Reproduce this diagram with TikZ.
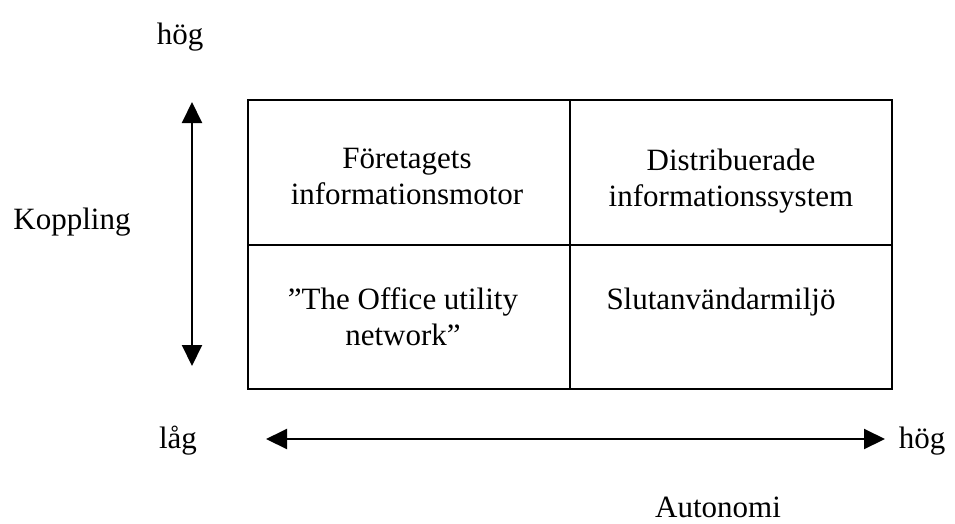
\documentclass[tikz,border=0pt]{standalone}
\usepackage{fontspec}
\setmainfont{Liberation Serif}
\usetikzlibrary{arrows.meta}
\begin{document}
\begin{tikzpicture}[x=1pt,y=-1pt,
  grid/.style={line width=2.6pt},
  axis/.style={line width=2pt,{Triangle[width=20pt,length=21pt]}-{Triangle[width=20pt,length=21pt]}},
  lbl/.style={font=\fontsize{31}{36}\selectfont},
  cell/.style={lbl,align=center,anchor=north}]
\useasboundingbox (0,0) rectangle (955,523);
% matrix of four cells
\draw[grid] (248,100) rectangle (892,389);
\draw[grid] (570,100) -- (570,389);
\draw[grid] (248,245) -- (892,245);
\node[cell] (tl) at (407,145) {Företagets\\informationsmotor};
\node[cell] (tr) at (731,145) {Distribuerade\\informationssystem};
\node[cell] (bl) at (403,284) {”The Office utility\\network”};
\node[cell] (br) at (721,284) {Slutanvändarmiljö};
% axes
\coordinate (vtop) at (192,102);
\coordinate (vbot) at (192,366);
\draw[axis] (vtop) -- (vbot);
\coordinate (hl) at (266,439);
\coordinate (hr) at (885,439);
\draw[axis] (hl) -- (hr);
\node[lbl] (vhigh) at (180,37) {hög};
\node[lbl] (vname) at (72,222) {Koppling};
\node[lbl] (hlow) at (178,441) {låg};
\node[lbl] (hhigh) at (922,441) {hög};
\node[lbl,anchor=base,inner sep=0pt] (hname) at (718,517) {Autonomi};
\end{tikzpicture}
\end{document}
